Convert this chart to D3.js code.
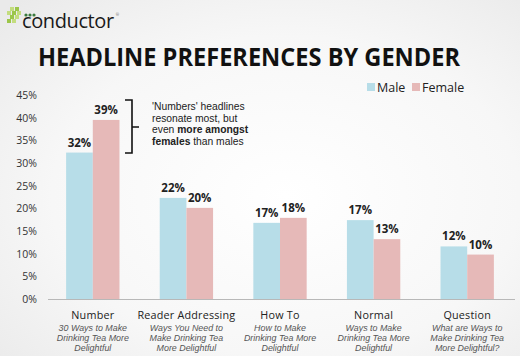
<!doctype html>
<html lang="en">
<head>
<meta charset="utf-8">
<title>Headline preferences by gender</title>
<script src="https://d3js.org/d3.v7.min.js"></script>
<style>
  body { margin: 0; background: #fff; }
  text { font-family: "Open Sans", "DejaVu Sans", sans-serif; }
</style>
</head>
<body>
<div id="main"></div>
<script>
const categories = ['Number', 'Reader Addressing', 'How To', 'Normal', 'Question']
const examples = [
  ['30 Ways to Make', 'Drinking Tea More', 'Delightful'],
  ['Ways You Need to', 'Make Drinking Tea', 'More Delightful'],
  ['How to Make', 'Drinking Tea More', 'Delightful'],
  ['Ways to Make', 'Drinking Tea More', 'Delightful'],
  ['What are Ways to', 'Make Drinking Tea', 'More Delightful?']
]
const maleValues = [32.3, 22.3, 16.8, 17.4, 11.6]
const femaleValues = [39.5, 20.1, 17.9, 13.2, 9.8]
const maleLabels = ['32%', '22%', '17%', '17%', '12%']
const femaleLabels = ['39%', '20%', '18%', '13%', '10%']
const series = ['Male', 'Female']
const yTicks = [0, 5, 10, 15, 20, 25, 30, 35, 40, 45]

const W = 520, H = 356
const colours = { Male: '#b7dde8', Female: '#e6b9b8' }

const svg = d3.select('#main').append('svg')
  .attr('width', W).attr('height', H)

// soft grey background like the slide
const defs = svg.append('defs')
const grad = defs.append('radialGradient').attr('id', 'bg')
  .attr('cx', '55%').attr('cy', '55%').attr('r', '75%')
grad.append('stop').attr('offset', '0%').attr('stop-color', '#ffffff')
grad.append('stop').attr('offset', '60%').attr('stop-color', '#f7f7f7')
grad.append('stop').attr('offset', '100%').attr('stop-color', '#eaeaea')
svg.append('rect').attr('width', W).attr('height', H).attr('fill', 'url(#bg)')

// logo
const logo = svg.append('g').attr('transform', 'translate(6,6)')
const sq = [[4,1],[9,1],[1,5],[6,5],[11,5],[4,9],[9,9],[1,13],[6,13]]
logo.selectAll('rect.l').data(sq).enter().append('rect')
  .attr('x', d => d[0]).attr('y', d => d[1]).attr('width', 4).attr('height', 4)
  .attr('fill', (d, i) => i % 2 ? '#9cc64a' : '#c3dd7e')
logo.selectAll('circle').data([0, 1, 2]).enter().append('circle')
  .attr('cx', d => 20 + d * 4).attr('cy', 9).attr('r', 1.6).attr('fill', '#3b7a3e')
// one text element so the small ® sits right after the word
const logoText = logo.append('text').attr('x', 16).attr('y', 22)
  .style('fill', '#1a1a1a')
logoText.append('tspan').style('font-size', '20px').style('letter-spacing', '-0.4px').text('conductor')
logoText.append('tspan').attr('dx', 2).attr('dy', -12)
  .style('font-size', '4px').style('fill', '#666').text('®')

// title
svg.append('text').attr('x', 249).attr('y', 66)
  .attr('text-anchor', 'middle')
  .attr('textLength', 422).attr('lengthAdjust', 'spacingAndGlyphs')
  .style('font-size', '25px').style('font-weight', 700).style('fill', '#111')
  .text('HEADLINE PREFERENCES BY GENDER')

// scales
const x = d3.scaleBand().domain(categories).range([46, 514])
  .paddingInner(0.43).paddingOuter(0.215)
const xs = d3.scaleBand().domain(series).range([0, x.bandwidth()])
const y = d3.scaleLinear().domain([0, 45]).range([299, 95])

// y axis labels
const yAxis = svg.append('g').attr('transform', 'translate(37,0)')
  .call(d3.axisLeft(y).tickValues(yTicks).tickFormat(d => d + '%').tickSize(0).tickPadding(0))
yAxis.select('.domain').remove()
yAxis.selectAll('text').style('font-size', '10.5px').style('fill', '#333')
  .style('font-family', '"Open Sans", sans-serif')

// bars
const rows = categories.map((c, i) => ({
  cat: c, i,
  vals: [
    { s: 'Male', v: maleValues[i], label: maleLabels[i] },
    { s: 'Female', v: femaleValues[i], label: femaleLabels[i] }
  ]
}))
const groups = svg.selectAll('g.cat').data(rows).enter().append('g')
  .attr('class', 'cat')
  .attr('transform', d => `translate(${x(d.cat)},0)`)

groups.selectAll('rect').data(d => d.vals).enter().append('rect')
  .attr('x', d => xs(d.s)).attr('width', xs.bandwidth())
  .attr('y', d => y(d.v)).attr('height', d => y(0) - y(d.v))
  .attr('fill', d => colours[d.s])

groups.selectAll('text.val').data(d => d.vals).enter().append('text')
  .attr('class', 'val')
  .attr('x', d => xs(d.s) + xs.bandwidth() / 2)
  .attr('y', d => y(d.v) - 6)
  .attr('text-anchor', 'middle')
  .style('font-size', '11.5px').style('font-weight', 700).style('fill', '#222')
  .text(d => d.label)

// axis baseline
svg.append('line').attr('x1', 48).attr('x2', 515)
  .attr('y1', y(0) + 0.5).attr('y2', y(0) + 0.5)
  .attr('stroke', '#b8b8b8').attr('stroke-width', 1)

// category labels + example headlines
groups.append('text')
  .attr('x', x.bandwidth() / 2).attr('y', 318.5)
  .attr('text-anchor', 'middle')
  .style('font-size', '10.8px').style('fill', '#222')
  .style('letter-spacing', '0.2px')
  .text(d => d.cat)
groups.each(function (d) {
  const ex = d3.select(this).append('text')
    .attr('class', 'ex')
    .attr('text-anchor', 'middle')
    .style('font-family', '"Liberation Sans", Arial, sans-serif')
    .style('font-size', '8.9px').style('font-style', 'italic').style('fill', '#555')
  ex.selectAll('tspan').data(examples[d.i]).enter().append('tspan')
    .attr('x', x.bandwidth() / 2).attr('y', (t, j) => 331 + j * 10)
    .text(t => t)
})

// legend
const legend = svg.append('g').attr('transform', 'translate(367,80)')
const legX = [0, 45]
legend.selectAll('rect').data(series).enter().append('rect')
  .attr('x', (d, i) => legX[i]).attr('y', 3).attr('width', 8).attr('height', 8)
  .attr('fill', d => colours[d])
legend.selectAll('text').data(series).enter().append('text')
  .attr('x', (d, i) => legX[i] + 10).attr('y', 11.5)
  .style('font-size', '12.5px').style('fill', '#222')
  .text(d => d)

// annotation brace
svg.append('path')
  .attr('d', 'M125,100 L132,100 L132,153 L125,153 M132,127 L139,127')
  .attr('fill', 'none').attr('stroke', '#111').attr('stroke-width', 1.6)

const note = svg.append('text').attr('x', 152)
  .style('font-family', '"Liberation Sans", Arial, sans-serif')
  .style('font-size', '10.3px').style('fill', '#222')
const noteLines = [
  [["'Numbers' headlines", 400]],
  [['resonate most, but', 400]],
  [['even ', 400], ['more amongst', 700]],
  [['females', 700], [' than males', 400]]
]
noteLines.forEach((line, j) => {
  line.forEach((part, k) => {
    const ts = note.append('tspan').style('font-weight', part[1]).text(part[0])
    if (k === 0) ts.attr('x', 152).attr('y', 110 + j * 11.6)
  })
})
</script>
</body>
</html>
